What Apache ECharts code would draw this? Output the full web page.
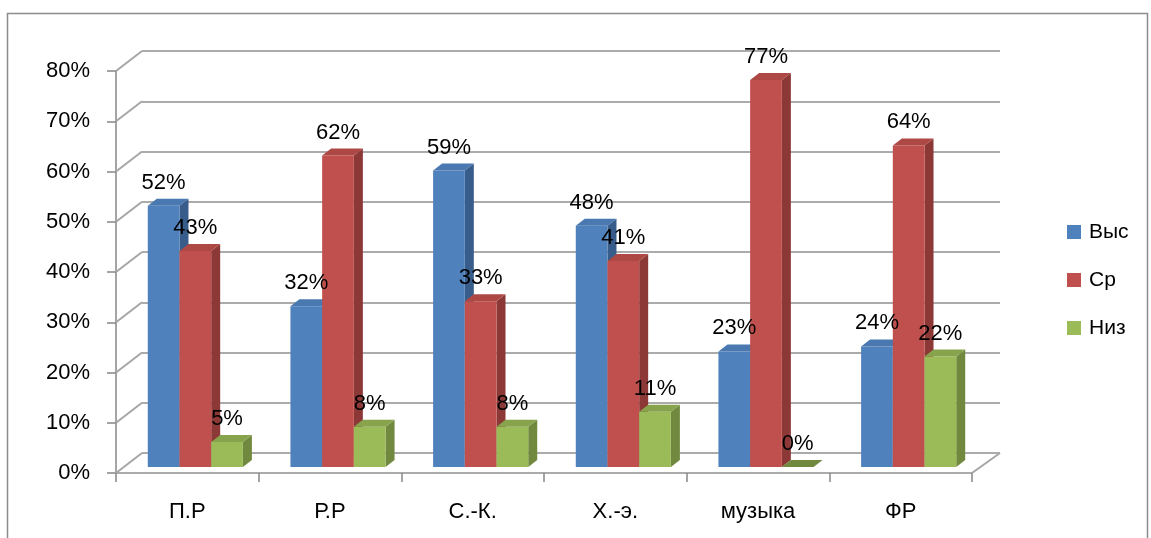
<!DOCTYPE html>
<html>
<head>
<meta charset="utf-8">
<script src="https://cdn.jsdelivr.net/npm/echarts@6/dist/echarts.min.js"></script>
<style>
html,body{margin:0;padding:0;background:#fff;}
#chart{width:1151px;height:538px;}
</style>
</head>
<body>
<div id="chart"></div>
<script>
// ---- data ----
var categories = ['П.Р', 'Р.Р', 'С.-К.', 'Х.-э.', 'музыка', 'ФР'];
var seriesNames = ['Выс', 'Ср', 'Низ'];
var vys = [52, 32, 59, 48, 23, 24];
var sr  = [43, 62, 33, 41, 77, 64];
var niz = [5, 8, 8, 11, 0, 22];
var yTicks = [0, 10, 20, 30, 40, 50, 60, 70, 80];

// ---- styling ----
var FONT = 'Liberation Sans';
var faceColors = [
  {front: '#4F81BD', side: '#385D8A', top: '#4A78B0'},
  {front: '#C0504D', side: '#8C3836', top: '#AE4845'},
  {front: '#9BBB59', side: '#71893F', top: '#87A34C'}
];
var SX = 8, SY = -6;      // bar plane shift from front plane
var DX = 9, DY = -7;      // bar depth
var WX = 26, WY = -20;    // wall depth

function barRender(k) {
  var c = faceColors[k];
  return function (params, api) {
    var cat = api.value(0), v = api.value(1);
    var base = api.coord([cat, 0]);
    var top = api.coord([cat, v]);
    var band = api.size([1, 0])[0];
    var w = band * 2 / 9;
    var x0 = base[0] - 1.5 * w + k * w + SX;
    var yb = base[1] + SY, yt = top[1] + SY;
    var children = [];
    if (yb - yt > 0) {
      children.push({type: 'polygon', shape: {points: [[x0 + w, yt], [x0 + w + DX, yt + DY], [x0 + w + DX, yb + DY], [x0 + w, yb]]}, style: {fill: c.side}});
      children.push({type: 'rect', shape: {x: x0, y: yt, width: w, height: yb - yt}, style: {fill: c.front}});
    }
    children.push({type: 'polygon', shape: {points: [[x0, yt], [x0 + DX, yt + DY], [x0 + w + DX, yt + DY], [x0 + w, yt]]}, style: {fill: v === 0 ? c.side : c.top}});
    children.push({type: 'text', z2: 100, style: {text: v + '%', x: x0 + w / 2, y: yt - 23, align: 'center', verticalAlign: 'middle', fill: '#000', font: '22px "' + FONT + '"'}});
    return {type: 'group', children: children};
  };
}

function wallRender(params, api) {
  var cs = params.coordSys;
  var v = api.value(0);
  var y = api.coord([0, v])[1];
  var lineStyle = {stroke: '#A6A6A6', lineWidth: 2};
  var children = [{type: 'line', shape: {x1: cs.x, y1: y, x2: cs.x + WX, y2: y + WY}, style: lineStyle}];
  if (v === 0) {
    children.push({type: 'line', shape: {x1: cs.x + cs.width, y1: y, x2: cs.x + cs.width + WX + 2, y2: y + WY}, style: lineStyle});
  }
  return {type: 'group', children: children};
}

var chart = echarts.init(document.getElementById('chart'), null, {renderer: 'canvas'});
var barData = [vys, sr, niz];

var series = [
  {type: 'custom', xAxisIndex: 0, yAxisIndex: 0, renderItem: wallRender, data: yTicks.map(function (t) { return [t]; }), encode: {y: 0}, silent: true, z: 1}
];
barData.forEach(function (arr, k) {
  series.push({
    name: seriesNames[k], type: 'custom', xAxisIndex: 0, yAxisIndex: 0,
    renderItem: barRender(k),
    itemStyle: {color: faceColors[k].front},
    data: arr.map(function (v, i) { return [i, v]; }),
    encode: {x: 0, y: 1}, z: 3
  });
});

chart.setOption({
  animation: false,
  backgroundColor: '#fff',
  graphic: [{type: 'rect', shape: {x: 7.5, y: 13.5, width: 1140, height: 545}, style: {fill: 'none', stroke: '#8C8C8C', lineWidth: 1.5}, z: -10}],
  legend: {
    data: seriesNames, orient: 'vertical', left: 1062, top: 216,
    itemWidth: 14, itemHeight: 14, itemGap: 26, icon: 'rect',
    textStyle: {fontFamily: FONT, fontSize: 21, lineHeight: 22, color: '#000', padding: [0, 0, 0, 3]}
  },
  grid: [
    {left: 116, top: 71, width: 856, height: 402, containLabel: false},
    {left: 142, top: 51, width: 858, height: 402, containLabel: false}
  ],
  xAxis: [
    {type: 'category', gridIndex: 0, data: categories, boundaryGap: true,
      axisLine: {lineStyle: {color: '#ABABAB', width: 2}},
      axisTick: {show: true, length: 9, lineStyle: {color: '#868686', width: 1.5}},
      axisLabel: {fontFamily: FONT, fontSize: 22, color: '#000', margin: 28},
      splitLine: {show: false}},
    {type: 'category', gridIndex: 1, data: categories, show: false}
  ],
  yAxis: [
    {type: 'value', gridIndex: 0, min: 0, max: 80, interval: 10,
      axisLine: {show: true, lineStyle: {color: '#868686', width: 1.5}},
      axisTick: {show: true, length: 9, lineStyle: {color: '#868686', width: 1.5}},
      axisLabel: {fontFamily: FONT, fontSize: 22, color: '#000', margin: 26, formatter: function (v) { return v + '%'; }},
      splitLine: {show: false}},
    {type: 'value', gridIndex: 1, min: 0, max: 80, interval: 10,
      axisLine: {show: false}, axisTick: {show: false}, axisLabel: {show: false},
      splitLine: {show: true, lineStyle: {color: '#ABABAB', width: 2}}}
  ],
  series: series
});
</script>
</body>
</html>
